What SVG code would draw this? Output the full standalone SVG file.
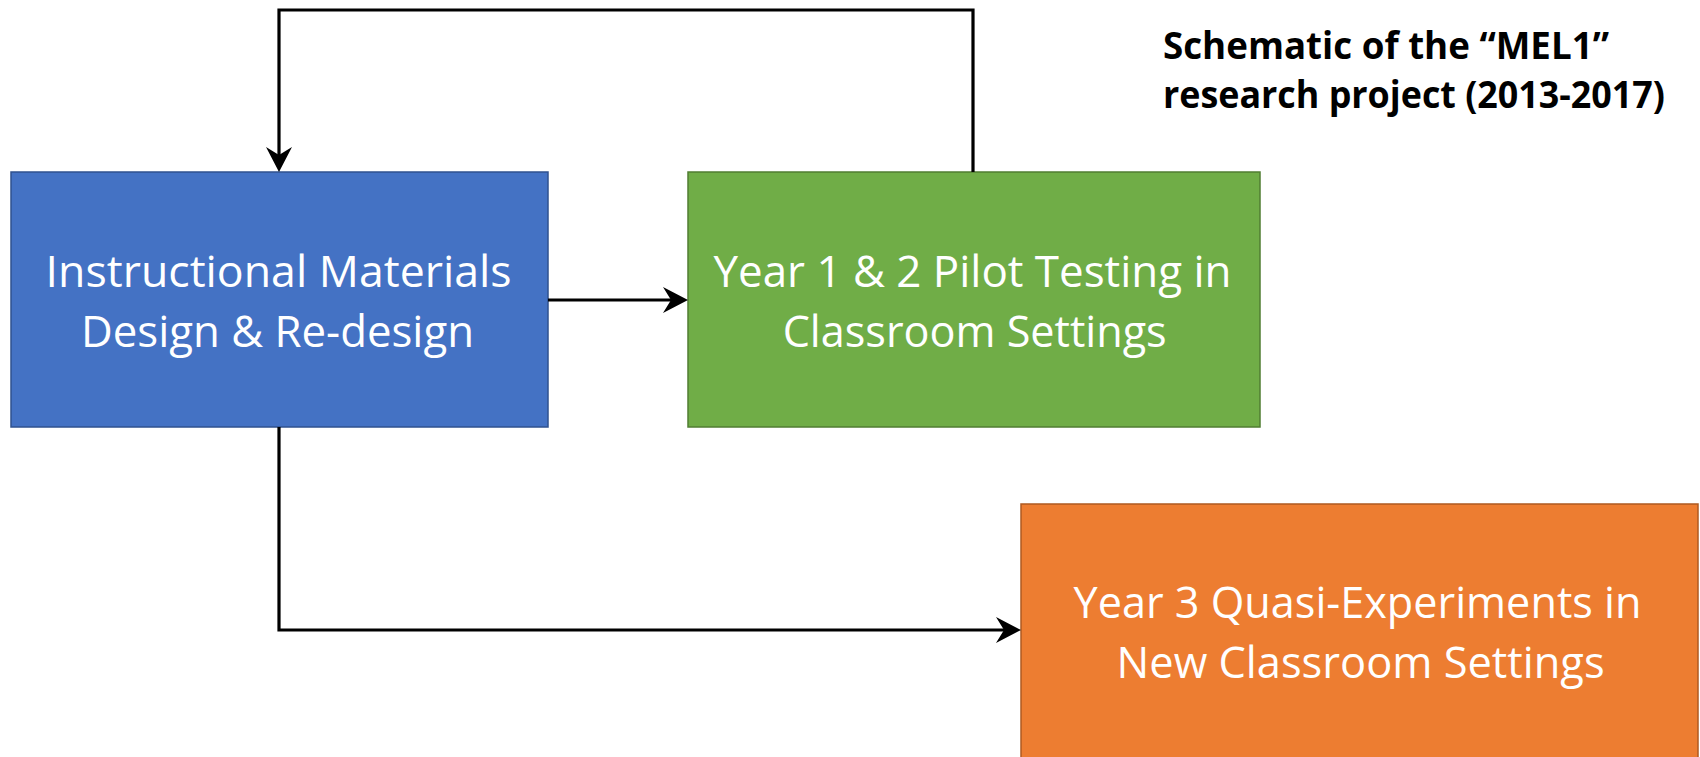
<svg xmlns="http://www.w3.org/2000/svg" width="1700" height="757" viewBox="0 0 1700 757">
<style>
.box-text{font-family:"Open Sans","Noto Sans","Liberation Sans",sans-serif;font-size:44px;fill:#ffffff;text-anchor:middle}
.title{font-family:"Open Sans","Noto Sans","Liberation Sans",sans-serif;font-size:38px;font-weight:bold;fill:#000000}
.conn{fill:none;stroke:#000000;stroke-width:3.2;stroke-linejoin:miter}
</style>
<defs>
<marker id="arrow" markerUnits="userSpaceOnUse" markerWidth="40" markerHeight="40" refX="0" refY="0" orient="auto" overflow="visible">
<path d="M10,0 L-15,-13 L-7,0 L-15,13 Z" fill="#000000"/>
</marker>
</defs>
<rect width="1700" height="757" fill="#ffffff"/>
<g id="title">
<text class="title" x="1163" y="59" textLength="446" lengthAdjust="spacingAndGlyphs">Schematic of the “MEL1”</text>
<text class="title" x="1163" y="108" textLength="502" lengthAdjust="spacingAndGlyphs">research project (2013-2017)</text>
</g>
<g id="node-design">
<rect x="11" y="172" width="537" height="255" fill="#4472C4" stroke="#2F528F" stroke-width="1.5"/>
<text class="box-text" x="278.6" y="287" textLength="466" lengthAdjust="spacingAndGlyphs">Instructional Materials</text>
<text class="box-text" x="277.5" y="347" textLength="393" lengthAdjust="spacingAndGlyphs">Design &amp; Re-design</text>
</g>
<g id="node-pilot">
<rect x="688" y="172" width="572" height="255" fill="#70AD47" stroke="#507E32" stroke-width="1.5"/>
<text class="box-text" x="972.5" y="287" textLength="518" lengthAdjust="spacingAndGlyphs">Year 1 &amp; 2 Pilot Testing in</text>
<text class="box-text" x="974.7" y="347" textLength="384" lengthAdjust="spacingAndGlyphs">Classroom Settings</text>
</g>
<g id="node-quasi">
<rect x="1021" y="504" width="677" height="260" fill="#ED7D31" stroke="#AE5A21" stroke-width="1.5"/>
<text class="box-text" x="1357.5" y="618" textLength="568" lengthAdjust="spacingAndGlyphs">Year 3 Quasi-Experiments in</text>
<text class="box-text" x="1360.6" y="678" textLength="488" lengthAdjust="spacingAndGlyphs">New Classroom Settings</text>
</g>
<g id="connectors">
<path class="conn" d="M973,172 L973,10 L279,10 L279,162" marker-end="url(#arrow)"/>
<path class="conn" d="M548,300 L678,300" marker-end="url(#arrow)"/>
<path class="conn" d="M279,427 L279,630 L1011,630" marker-end="url(#arrow)"/>
</g>
</svg>
